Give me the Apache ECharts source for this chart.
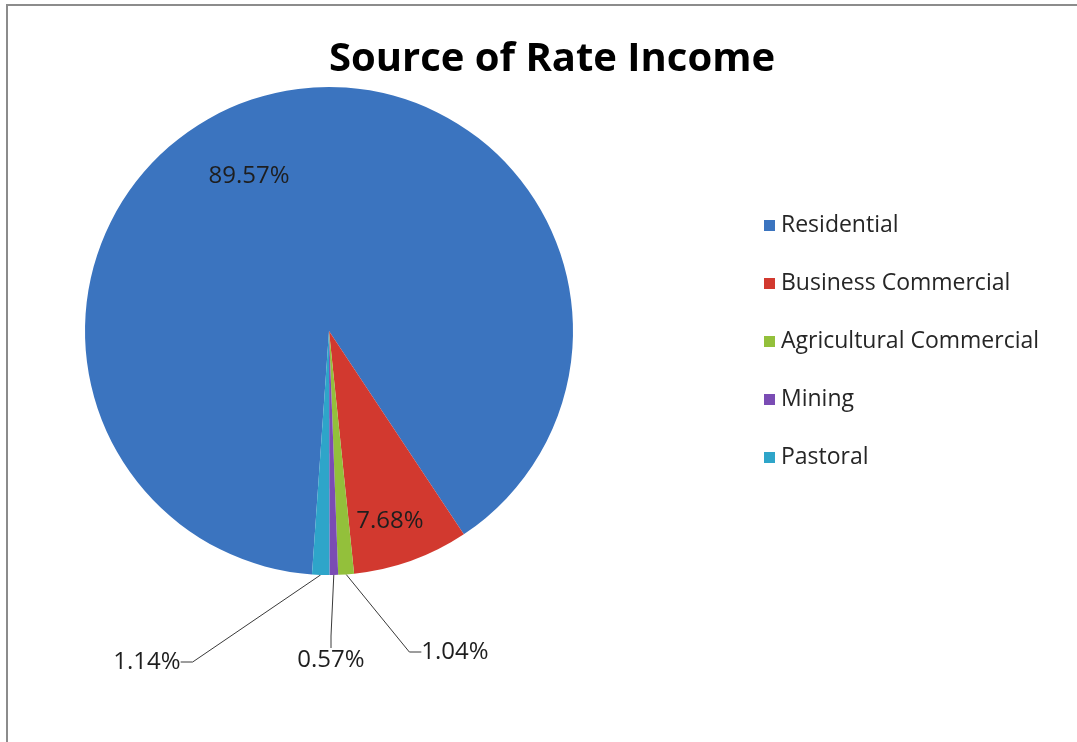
<!DOCTYPE html>
<html>
<head>
<meta charset="utf-8">
<title>Source of Rate Income</title>
<script src="https://cdn.jsdelivr.net/npm/echarts@6/dist/echarts.min.js"></script>
<style>
  html, body { margin: 0; padding: 0; background: #ffffff; }
  #chart { position: absolute; left: 0; top: 0; width: 1077px; height: 742px; }
  #frame {
    position: absolute; left: 6px; top: 4px; right: 0; bottom: 0;
    border-top: 2px solid #8c8c8c; border-left: 2px solid #8c8c8c;
    pointer-events: none;
  }
</style>
</head>
<body>
<div id="chart"></div>
<div id="frame"></div>
<script>
// Share of rate income by land-use category (percent of total)
const categories = ['Residential', 'Business Commercial', 'Agricultural Commercial', 'Mining', 'Pastoral'];
const shares = [89.57, 7.68, 1.04, 0.57, 1.14];

// Slice colours, one per category
const sliceColors = ['#3b74bf', '#d2392f', '#93c03b', '#7a4cb4', '#2ea5c9'];

// Where each percentage label sits (pixel centre) and whether it is drawn inside its slice
const labelSpots = [
  { x: 249, y: 176, inside: true },
  { x: 390, y: 521, inside: true },
  { x: 455, y: 652, inside: false },
  { x: 331, y: 660, inside: false },
  { x: 147, y: 662, inside: false }
];

const FONT = '"Open Sans", "Liberation Sans", sans-serif';

const pieData = categories.map((name, i) => ({
  name: name,
  value: shares[i],
  itemStyle: { color: sliceColors[i] },
  label: labelSpots[i].inside ? { position: 'inside' } : { position: 'outside' },
  labelLine: { show: !labelSpots[i].inside }
}));

const chart = echarts.init(document.getElementById('chart'), null, { renderer: 'canvas' });

chart.setOption({
  animation: false,
  backgroundColor: '#ffffff',
  title: {
    text: 'Source of Rate Income',
    left: 547,
    top: 35,
    textAlign: 'center',
    textStyle: { fontFamily: FONT, fontSize: 40, fontWeight: 'bold', color: '#000000' }
  },
  legend: {
    orient: 'vertical',
    left: 759,
    top: 209,
    itemWidth: 11,
    itemHeight: 11,
    itemGap: 35,
    icon: 'rect',
    data: categories,
    textStyle: { fontFamily: FONT, fontSize: 23, color: '#262626', padding: [0, 0, 0, 1] }
  },
  series: [{
    type: 'pie',
    center: [329, 331],
    radius: 244,
    startAngle: -94,
    clockwise: true,
    avoidLabelOverlap: false,
    data: pieData,
    itemStyle: { borderWidth: 0 },
    label: {
      show: true,
      fontFamily: FONT,
      fontSize: 24,
      color: '#1e1e1e',
      formatter: p => p.value.toFixed(2) + '%'
    },
    labelLine: {
      show: true,
      length: 10,
      length2: 12,
      lineStyle: { color: '#3a3a3a', width: 1 }
    },
    labelLayout: function (params) {
      const spot = labelSpots[params.dataIndex];
      return { x: spot.x, y: spot.y, align: 'center', verticalAlign: 'middle' };
    },
    emphasis: { disabled: true }
  }]
});
</script>
</body>
</html>
